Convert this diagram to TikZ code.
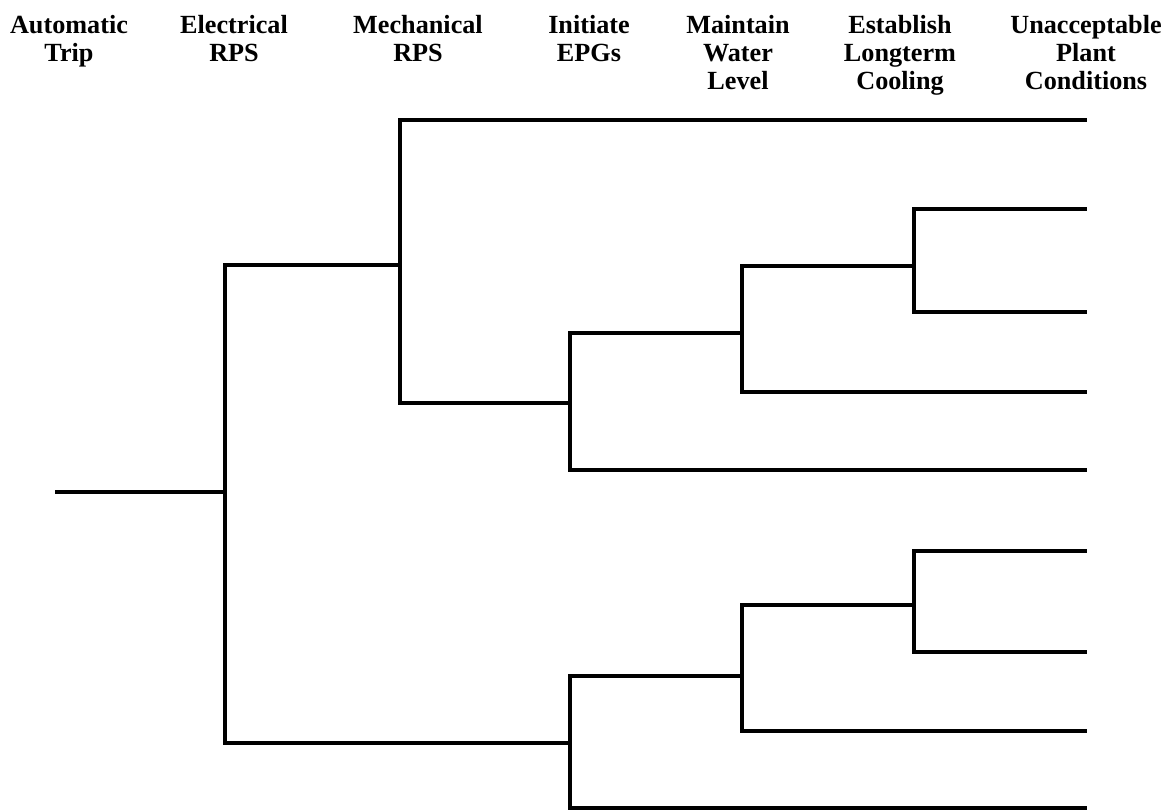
\documentclass[tikz,border=0pt]{standalone}
\usepackage{fontspec}
\setmainfont{Liberation Serif}
\usepackage{tikz}

\begin{document}
\begin{tikzpicture}[x=0.5pt,y=-0.5pt,
    head/.style={anchor=north,inner sep=0pt,align=center,font=\fontsize{13.1}{14}\selectfont\bfseries},
    branch/.style={line width=2pt,line join=miter}]
    \useasboundingbox (0,0) rectangle (1171,812);
    % Kopfzeile
    \node[head] (hAT) at (69,15)   {Automatic\\Trip};
    \node[head] (hER) at (234,15)  {Electrical\\RPS};
    \node[head] (hMR) at (418,15)  {Mechanical\\RPS};
    \node[head] (hIE) at (589,15)  {Initiate\\EPGs};
    \node[head] (hMW) at (738,15)  {Maintain\\Water\\Level};
    \node[head] (hEL) at (900,15)  {Establish\\Longterm\\Cooling};
    \node[head] (hUP) at (1086,15) {Unacceptable\\Plant\\Conditions};
    % Verzweigungspunkte
    \coordinate (start) at (55,492);
    \coordinate (er)  at (225,492);
    \coordinate (mr)  at (400,265);
    \coordinate (ie1) at (570,403);
    \coordinate (mw1) at (742,333);
    \coordinate (el1) at (914,266);
    \coordinate (ie2) at (570,743);
    \coordinate (mw2) at (742,676);
    \coordinate (el2) at (914,605);
    % Endzustaende
    \coordinate (end1) at (1087,120);
    \coordinate (end2) at (1087,209);
    \coordinate (end3) at (1087,312);
    \coordinate (end4) at (1087,392);
    \coordinate (end5) at (1087,470);
    \coordinate (end6) at (1087,551);
    \coordinate (end7) at (1087,652);
    \coordinate (end8) at (1087,731);
    \coordinate (end9) at (1087,808);
    % oberer Ast
    \draw[branch] (start) -- (er);
    \draw[branch] (er) |- (mr);
    \draw[branch] (mr) |- (end1);
    \draw[branch] (mr) |- (ie1);
    \draw[branch] (ie1) |- (mw1);
    \draw[branch] (ie1) |- (end5);
    \draw[branch] (mw1) |- (el1);
    \draw[branch] (mw1) |- (end4);
    \draw[branch] (el1) |- (end2);
    \draw[branch] (el1) |- (end3);
    % unterer Ast
    \draw[branch] (er) |- (ie2);
    \draw[branch] (ie2) |- (mw2);
    \draw[branch] (ie2) |- (end9);
    \draw[branch] (mw2) |- (el2);
    \draw[branch] (mw2) |- (end8);
    \draw[branch] (el2) |- (end6);
    \draw[branch] (el2) |- (end7);
  \end{tikzpicture}
\end{document}
